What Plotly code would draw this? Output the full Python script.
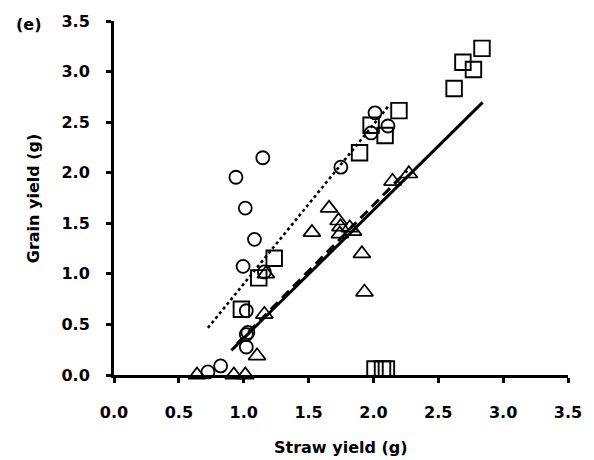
import plotly.graph_objects as go

# Straw yield (g) vs grain yield (g) for three treatments
circle_x = [0.724, 0.822, 0.940, 0.995, 1.012, 1.020, 1.020, 1.032, 1.020, 1.083, 1.147, 1.159,
            1.749, 1.982, 2.012, 2.112]
circle_y = [0.030, 0.090, 1.955, 1.074, 1.650, 0.635, 0.400, 0.420, 0.277, 1.341, 2.148, 1.019,
            2.055, 2.393, 2.592, 2.462]

square_x = [0.982, 1.116, 1.235, 1.893, 1.982, 2.090, 2.197, 2.622, 2.690, 2.771, 2.837,
            2.012, 2.070, 2.100]
square_y = [0.650, 0.960, 1.155, 2.197, 2.470, 2.368, 2.614, 2.832, 3.092, 3.021, 3.229,
            0.060, 0.060, 0.060]

tri_x = [0.640, 0.924, 1.012, 1.103, 1.159, 1.171, 1.526, 1.658, 1.731, 1.746, 1.741, 1.817,
         1.843, 1.911, 1.931, 2.147, 2.273]
tri_y = [0.000, 0.000, 0.000, 0.190, 0.600, 1.000, 1.410, 1.650, 1.525, 1.465, 1.395, 1.455,
         1.420, 1.200, 0.820, 1.915, 1.990]

# Fitted regression lines (end points)
dotted_x = [0.724, 2.120]
dotted_y = [0.466, 2.665]
dashed_x = [0.950, 2.260]
dashed_y = [0.310, 2.020]
solid_x = [0.905, 2.842]
solid_y = [0.244, 2.695]

x_ticks = [0.0, 0.5, 1.0, 1.5, 2.0, 2.5, 3.0, 3.5]
y_ticks = [0.0, 0.5, 1.0, 1.5, 2.0, 2.5, 3.0, 3.5]

W, H = 594, 460
ML, MR, MT, MB = 114, 19, 17, 85
PW, PH = W - ML - MR, H - MT - MB


def paper_x(px):
    return (px - ML) / PW


def paper_y(py):
    return (H - MB - py) / PH


FONT = "DejaVu Sans"
BLACK = "#000000"

fig = go.Figure()

fig.add_trace(go.Scatter(x=dotted_x, y=dotted_y, mode="lines",
                         line=dict(color=BLACK, width=2.6, dash="dot"),
                         hoverinfo="skip", showlegend=False))
fig.add_trace(go.Scatter(x=dashed_x, y=dashed_y, mode="lines",
                         line=dict(color=BLACK, width=3, dash="10px,6px"),
                         hoverinfo="skip", showlegend=False))
fig.add_trace(go.Scatter(x=solid_x, y=solid_y, mode="lines",
                         line=dict(color=BLACK, width=3),
                         hoverinfo="skip", showlegend=False))

fig.add_trace(go.Scatter(x=circle_x, y=circle_y, mode="markers", cliponaxis=False,
                         marker=dict(symbol="circle-open", size=13,
                                     line=dict(color=BLACK, width=1.8), color=BLACK),
                         showlegend=False))
fig.add_trace(go.Scatter(x=square_x, y=square_y, mode="markers", cliponaxis=False,
                         marker=dict(symbol="square-open", size=15.5,
                                     line=dict(color=BLACK, width=1.9), color=BLACK),
                         showlegend=False))
fig.add_trace(go.Scatter(x=tri_x, y=tri_y, mode="markers", cliponaxis=False,
                         marker=dict(symbol="triangle-up-open", size=15,
                                     line=dict(color=BLACK, width=1.7), color=BLACK),
                         showlegend=False))

tick_font = dict(family=FONT, size=16, color=BLACK, weight="bold")
axis_common = dict(showgrid=False, zeroline=False, showline=True, linecolor=BLACK,
                   linewidth=3, ticks="outside", tickcolor=BLACK, tickwidth=3,
                   ticklen=5, tickfont=tick_font, tickformat=".1f",
                   range=[0, 3.5], fixedrange=True)

fig.update_xaxes(tickvals=x_ticks, ticklabelstandoff=16, **axis_common)
fig.update_yaxes(tickvals=y_ticks, ticklabelstandoff=13, **axis_common)

title_font = dict(family=FONT, size=16, color=BLACK, weight="bold")
fig.update_layout(
    width=W, height=H,
    margin=dict(l=ML, r=MR, t=MT, b=MB, pad=0),
    paper_bgcolor="white", plot_bgcolor="white",
    annotations=[
        dict(text="(e)", x=paper_x(27), y=paper_y(21), xref="paper", yref="paper",
             showarrow=False, xanchor="center", yanchor="middle", font=title_font),
        dict(text="Grain yield (g)", x=paper_x(32), y=0.5, xref="paper", yref="paper",
             showarrow=False, textangle=-90, xanchor="center", yanchor="middle",
             font=title_font),
        dict(text="Straw yield (g)", x=0.5, y=paper_y(448), xref="paper", yref="paper",
             showarrow=False, xanchor="center", yanchor="middle", font=title_font),
    ],
)

fig.write_html("out.html")
